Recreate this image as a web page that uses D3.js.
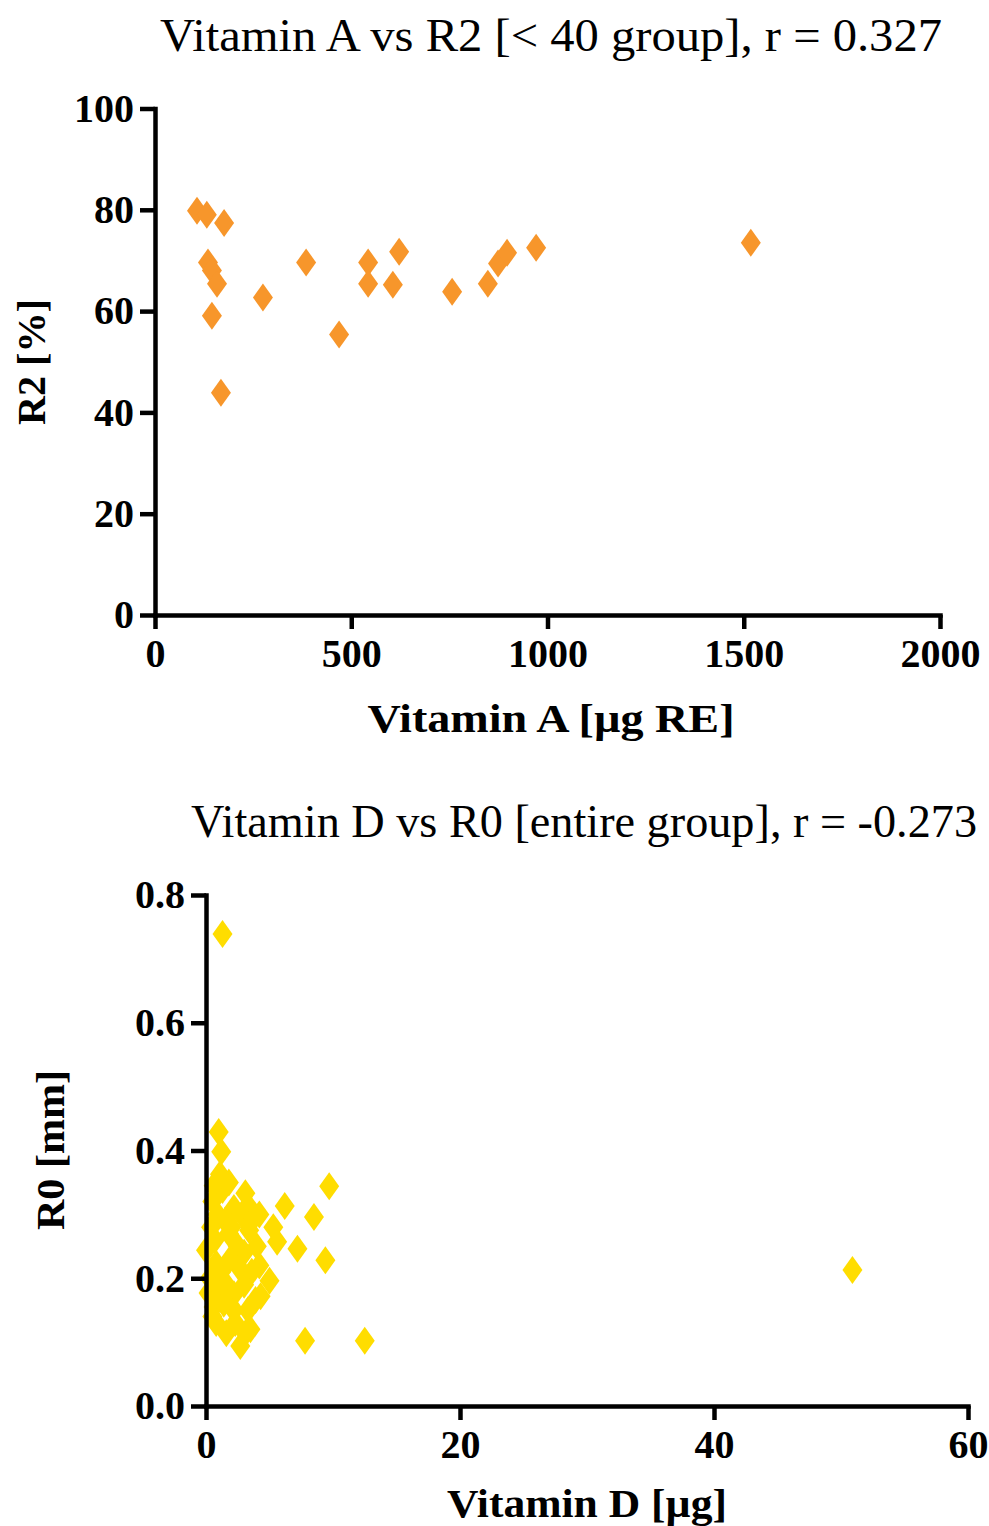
<!DOCTYPE html>
<html>
<head>
<meta charset="utf-8">
<script src="https://cdn.jsdelivr.net/npm/d3@7"></script>
<style>
  html, body { margin: 0; padding: 0; background: #fff; }
  svg { display: block; }
  .tick text { font-family: "Liberation Serif", "Times New Roman", serif; font-weight: bold; }
</style>
</head>
<body>
<svg id="chart" width="989" height="1526"></svg>
<script>
// ---- Panel 1: Vitamin A intake vs R2, < 40 group ----
const vitA = [107, 132, 176, 135, 145, 158, 145, 168, 275, 385, 469, 543, 543, 622, 606, 757, 848, 874, 897, 971, 1518];
const r2   = [79.8, 79.0, 77.4, 69.6, 68.0, 65.4, 59.1, 43.9, 62.7, 69.6, 55.4, 69.6, 65.4, 71.7, 65.2, 63.8, 65.4, 69.4, 71.5, 72.5, 73.5];
const vitATicks = [0, 500, 1000, 1500, 2000];
const r2Ticks   = [0, 20, 40, 60, 80, 100];

// ---- Panel 2: Vitamin D intake vs R0, entire group ----
const vitD = [1.3, 50.9, 12.5, 7.8, 9.7, 9.4, 8.5, 7.2, 6.2, 5.6, 5.3, 5.0, 4.3, 3.5, 2.7,
              1.0, 1.2, 1.1, 1.3, 0.6, 0.5, 0.9, 0.4, 1.5, 0.0, 0.7, 1.8, 2.2, 2.8, 3.1, 3.4,
              3.6, 3.4, 2.5, 3.0, 4.0, 4.2, 3.6, 2.6, 1.9, 1.2, 0.8, 0.3, 0.2, 1.0, 1.6, 2.2,
              3.0, 3.9, 3.3, 2.2, 1.4, 0.6, 0.8, 1.6, 2.3, 3.1, 0.5, 1.8, 2.0, 4.2];
const r0   = [0.739, 0.213, 0.102, 0.102, 0.344, 0.228, 0.296, 0.246, 0.313, 0.257, 0.280, 0.196, 0.172, 0.120, 0.094,
              0.429, 0.398, 0.363, 0.338, 0.345, 0.320, 0.300, 0.280, 0.290, 0.244, 0.260, 0.270, 0.310, 0.300, 0.333, 0.311,
              0.290, 0.275, 0.250, 0.240, 0.250, 0.220, 0.210, 0.217, 0.230, 0.210, 0.223, 0.200, 0.177, 0.185, 0.190, 0.175,
              0.190, 0.166, 0.150, 0.150, 0.160, 0.155, 0.130, 0.114, 0.130, 0.114, 0.140, 0.350, 0.280, 0.300];
const vitDTicks = [0, 20, 40, 60];
const r0Ticks   = [0, 0.2, 0.4, 0.6, 0.8];

const svg = d3.select("#chart");
const serif = '"Liberation Serif", "Times New Roman", serif';

// diamond marker, a little taller than wide
const diamond = "M0,-14L10,0L0,14L-10,0Z";

function panel(cfg) {
  const x = d3.scaleLinear().domain(cfg.xDomain).range(cfg.xRange);
  const y = d3.scaleLinear().domain(cfg.yDomain).range(cfg.yRange);
  const g = svg.append("g");

  // points first so the axes sit on top where they overlap
  g.append("g").selectAll("path")
    .data(cfg.xs.map((v, i) => [v, cfg.ys[i]]))
    .join("path")
    .attr("d", diamond)
    .attr("transform", d => `translate(${x(d[0])},${y(d[1])})`)
    .attr("fill", cfg.color);

  const yAxis = g.append("g")
    .attr("transform", `translate(${cfg.xRange[0]},0)`)
    .call(d3.axisLeft(y).tickValues(cfg.yTicks).tickFormat(cfg.yFmt)
      .tickSize(15).tickSizeOuter(0).tickPadding(6));
  const xAxis = g.append("g")
    .attr("transform", `translate(0,${cfg.yRange[0]})`)
    .call(d3.axisBottom(x).tickValues(cfg.xTicks).tickFormat(cfg.xFmt)
      .tickSize(14).tickSizeOuter(0).tickPadding(10));

  [yAxis, xAxis].forEach(a => {
    a.select(".domain").attr("stroke", "#000").attr("stroke-width", 4.5).attr("stroke-linecap", "square");
    a.selectAll(".tick line").attr("stroke", "#000").attr("stroke-width", 4.5);
    a.selectAll(".tick text").attr("fill", "#000").style("font-size", "40px");
  });

  // chart title
  g.append("text")
    .attr("x", cfg.title.x).attr("y", cfg.title.y)
    .attr("textLength", cfg.title.w).attr("lengthAdjust", "spacingAndGlyphs")
    .style("font-family", serif).style("font-size", "47px").attr("fill", "#000")
    .text(cfg.title.text);

  // x axis title
  g.append("text")
    .attr("x", cfg.xTitle.x).attr("y", cfg.xTitle.y)
    .attr("text-anchor", "middle")
    .attr("textLength", cfg.xTitle.w).attr("lengthAdjust", "spacingAndGlyphs")
    .style("font-family", serif).style("font-weight", "bold").style("font-size", "41px")
    .text(cfg.xTitle.text);

  // y axis title
  g.append("text")
    .attr("transform", `translate(${cfg.yTitle.x},${cfg.yTitle.y}) rotate(-90)`)
    .attr("text-anchor", "middle")
    .attr("textLength", cfg.yTitle.w).attr("lengthAdjust", "spacingAndGlyphs")
    .style("font-family", serif).style("font-weight", "bold").style("font-size", "41px")
    .text(cfg.yTitle.text);
}

panel({
  xs: vitA, ys: r2, color: "#F7962B",
  xDomain: [0, 2000], xRange: [155, 940],
  yDomain: [0, 100], yRange: [615, 108.5],
  xTicks: vitATicks, yTicks: r2Ticks,
  xFmt: d3.format("d"), yFmt: d3.format("d"),
  title: { text: "Vitamin A vs R2 [< 40 group], r = 0.327", x: 160, y: 51, w: 782 },
  xTitle: { text: "Vitamin A [\u00b5g RE]", x: 551, y: 732, w: 367 },
  yTitle: { text: "R2 [%]", x: 45, y: 362, w: 126 }
});

panel({
  xs: vitD, ys: r0, color: "#FFDD00",
  xDomain: [0, 60], xRange: [206, 968],
  yDomain: [0, 0.8], yRange: [1406, 895],
  xTicks: vitDTicks, yTicks: r0Ticks,
  xFmt: d3.format("d"), yFmt: d3.format(".1f"),
  title: { text: "Vitamin D vs R0 [entire group], r = -0.273", x: 191, y: 837, w: 786 },
  xTitle: { text: "Vitamin D [\u00b5g]", x: 587, y: 1517, w: 280 },
  yTitle: { text: "R0 [mm]", x: 64, y: 1150, w: 160 }
});
</script>
</body>
</html>
